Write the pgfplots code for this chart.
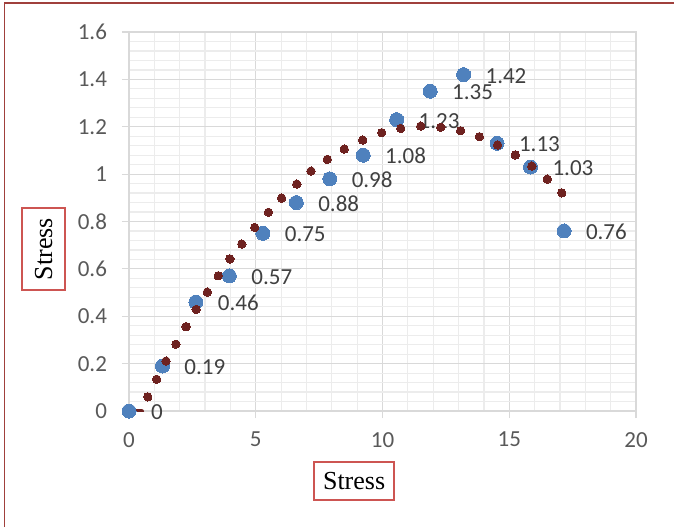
\documentclass[border=0pt]{standalone}
\usepackage{pgfplots}
\pgfplotsset{compat=1.18}
\usepackage{fontspec}
\setmainfont{Carlito}
\newfontfamily\tnr{Liberation Serif}
\definecolor{ptblue}{RGB}{79,129,189}
\definecolor{trred}{RGB}{110,34,32}
\definecolor{lblred}{RGB}{205,85,82}
\definecolor{framered}{RGB}{160,64,60}
\definecolor{majgrid}{RGB}{217,217,217}
\definecolor{mingrid}{RGB}{236,236,236}
\definecolor{ticktext}{RGB}{89,89,89}
\definecolor{lbltext}{RGB}{64,64,64}
\begin{document}
\begin{tikzpicture}
\begin{axis}[
  at={(64.5pt,-205.5pt)}, anchor=south west,
  scale only axis, width=253.5pt, height=189.5pt,
  xmin=0, xmax=20, ymin=0, ymax=1.6,
  xtick={0,5,10,15,20}, ytick={0,0.2,0.4,0.6,0.8,1,1.2,1.4,1.6},
  minor x tick num=4, minor y tick num=4,
  grid=both,
  major grid style={draw=majgrid, line width=0.6pt},
  minor grid style={draw=mingrid, line width=0.6pt},
  axis line style={draw=majgrid, line width=0.6pt},
  major tick style={draw=majgrid, line width=0.6pt},
  major tick length=3.5pt, minor tick length=0pt,
  tick align=outside, tick pos=left,
  ticklabel style={font=\fontsize{11.5}{13}\selectfont, text=ticktext},
  yticklabel style={xshift=-4pt},
  xticklabel style={yshift=-3.5pt},
  /pgf/number format/assume math mode=true,
  xlabel={Stress}, ylabel={Stress},
  xlabel style={at={(axis description cs:0.444,-0.185)}, anchor=center,
    font=\tnr\fontsize{13}{15}\selectfont, text=black, draw=lblred, line width=0.75pt,
    minimum width=40pt, minimum height=19pt, inner sep=0pt},
  ylabel style={at={(axis description cs:-0.1686,0.4274)}, anchor=center,
    font=\tnr\fontsize{13}{15}\selectfont, text=black, draw=lblred, line width=0.75pt,
    minimum width=41pt, minimum height=21.5pt, inner sep=0pt},
]
\addplot[only marks, mark=*, mark size=3.5pt,
  mark options={fill=ptblue, draw=ptblue, line width=0pt},
  point meta=explicit symbolic, nodes near coords,
  every node near coord/.append style={anchor=west, xshift=11pt, yshift=-0.5pt,
    inner sep=0pt, font=\fontsize{11.5}{13}\selectfont, text=lbltext}]
coordinates {
(0,0)[0] (1.32,0.19)[0.19] (2.64,0.46)[0.46] (3.96,0.57)[0.57]
(5.28,0.75)[0.75] (6.6,0.88)[0.88] (7.92,0.98)[0.98] (9.24,1.08)[1.08]
(10.56,1.23)[1.23] (11.88,1.35)[1.35] (13.2,1.42)[1.42] (14.52,1.13)[1.13]
(15.84,1.03)[1.03] (17.16,0.76)[0.76]
};
\addplot[draw=trred, line width=2.4pt, line cap=round] coordinates {(0.22,-0.002) (0.5,-0.002)};
\addplot[only marks, mark=*, mark size=2.1pt, mark options={fill=trred, draw=trred, line width=0pt}]
coordinates {
(0.74,0.060) (1.09,0.134) (1.46,0.211) (1.85,0.282) (2.25,0.356) (2.65,0.429)
(3.09,0.502) (3.52,0.571) (3.98,0.642) (4.45,0.705) (4.96,0.775) (5.50,0.839)
(6.02,0.899) (6.62,0.958) (7.18,1.013) (7.82,1.062) (8.49,1.106) (9.22,1.144)
(9.97,1.175) (10.72,1.193) (11.51,1.203) (12.30,1.198) (13.08,1.183) (13.82,1.158)
(14.54,1.123) (15.24,1.081) (15.89,1.034) (16.50,0.979) (17.07,0.921)
};
\end{axis}
\draw[framered, line width=0.9pt] (2.25pt,-263.5pt) -- (2.25pt,-1.5pt) -- (337pt,-1.5pt);
\pgfresetboundingbox
\useasboundingbox (0,0) rectangle (337pt,-263.5pt);
\end{tikzpicture}
\end{document}
